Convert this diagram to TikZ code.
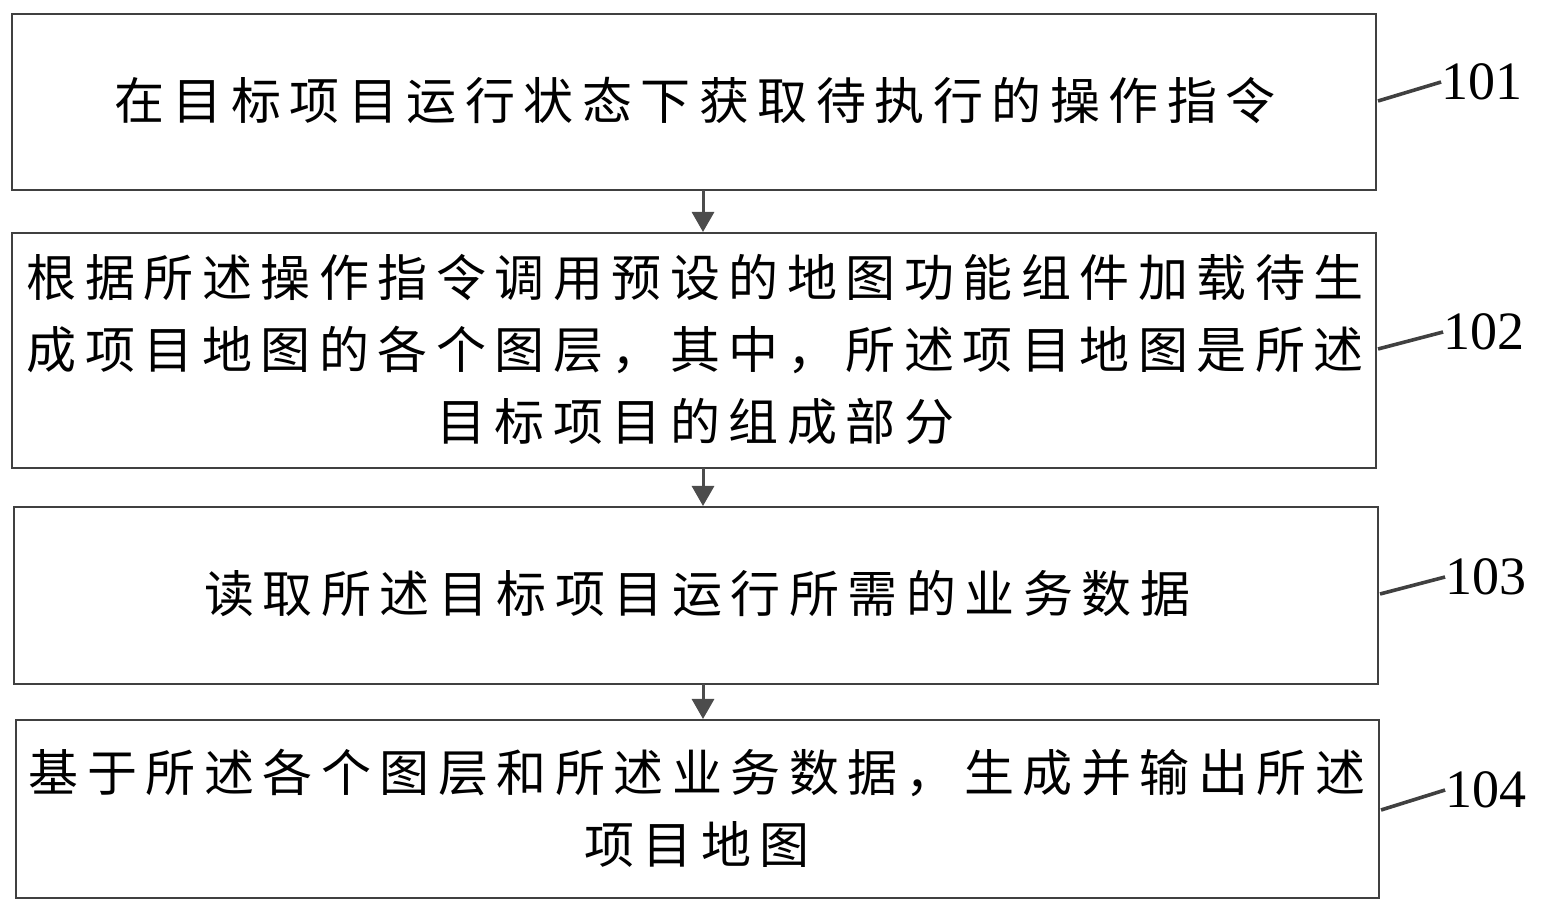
\documentclass[tikz,border=0pt]{standalone}
\usepackage{fontspec}
\newfontfamily\cjk[LetterSpace=17]{Noto Sans CJK SC}
\setmainfont{Liberation Serif}
\usetikzlibrary{arrows.meta}
\begin{document}
\begin{tikzpicture}[x=0.5pt,y=-0.5pt,
  box/.style={draw=black!75,line width=0.8pt},
  txt/.style={font=\cjk\fontsize{25}{36}\selectfont,align=center,inner sep=0},
  lab/.style={font=\fontsize{27}{30}\selectfont,inner sep=0},
  arr/.style={-{Triangle[length=10pt,width=11pt]},line width=1.5pt,draw=black!70},
  ld/.style={line width=1.8pt,draw=black!75}]
\useasboundingbox (0,0) rectangle (1542,913);
\draw[box] (12,14) rectangle (1376,190);
\draw[box] (12,233) rectangle (1376,468);
\draw[box] (14,507) rectangle (1378,684);
\draw[box] (16,720) rectangle (1379,898);
\node[txt] (t1) at (695,101) {在目标项目运行状态下获取待执行的操作指令};
\node[txt] (t2) at (695,350) {根据所述操作指令调用预设的地图功能组件加载待生\\成项目地图的各个图层，其中，所述项目地图是所述\\目标项目的组成部分};
\node[txt] (t3) at (697,594) {读取所述目标项目运行所需的业务数据};
\node[txt] (t4) at (697,808) {基于所述各个图层和所述业务数据，生成并输出所述\\项目地图};
\coordinate (a1) at (703,190); \coordinate (b1) at (703,232);
\coordinate (a2) at (703,468); \coordinate (b2) at (703,506);
\coordinate (a3) at (703,684); \coordinate (b3) at (703,719);
\draw[arr] (a1) -- (b1);
\draw[arr] (a2) -- (b2);
\draw[arr] (a3) -- (b3);
\node[lab] (n1) at (1482,82) {101};
\node[lab] (n2) at (1484,332) {102};
\node[lab] (n3) at (1486,577) {103};
\node[lab] (n4) at (1486,790) {104};
\draw[ld] (1378,101) -- (n1.west);
\draw[ld] (1378,349) -- (n2.west);
\draw[ld] (1380,594) -- (n3.west);
\draw[ld] (1381,810) -- (n4.west);
\end{tikzpicture}
\end{document}
